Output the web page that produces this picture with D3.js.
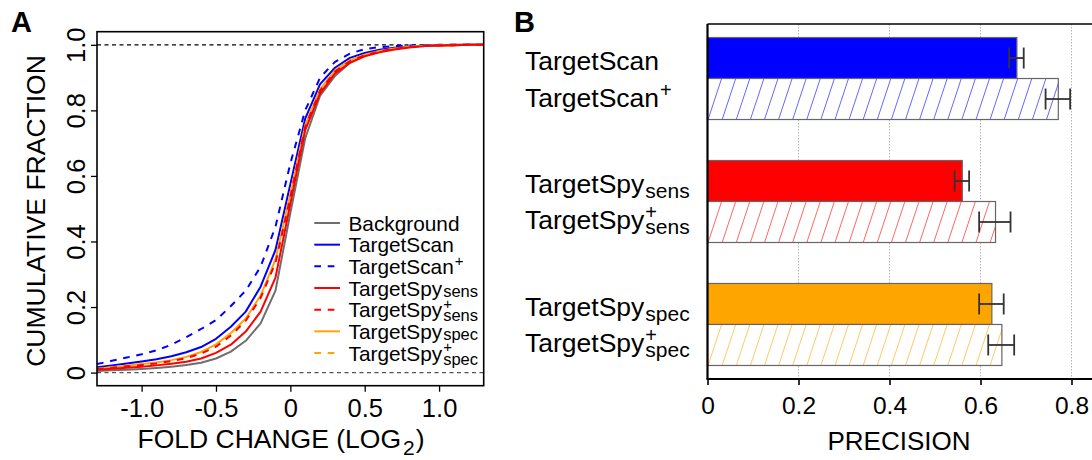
<!DOCTYPE html>
<html>
<head>
<meta charset="utf-8">
<script src="https://cdn.jsdelivr.net/npm/d3@7"></script>
<style>
  body { margin: 0; background: #fff; }
  svg { display: block; font-family: "Liberation Sans", Arial, Helvetica, sans-serif; }
</style>
</head>
<body>
<svg id="chart" width="1092" height="460"></svg>
<script>
// ---------- Panel A: cumulative distributions of log2 fold change ----------
const foldChange = [-1.3, -1.2, -1.1, -1.0, -0.9, -0.8, -0.7, -0.6, -0.5, -0.4, -0.3, -0.2, -0.1,
  0, 0.1, 0.2, 0.3, 0.4, 0.5, 0.6, 0.7, 0.8, 0.9, 1.0, 1.1, 1.2, 1.3];

const cdfBackground     = [0.005, 0.007, 0.009, 0.011, 0.014, 0.018, 0.023, 0.030, 0.043, 0.064, 0.097, 0.150, 0.250,
  0.487, 0.715, 0.845, 0.905, 0.945, 0.967, 0.980, 0.988, 0.993, 0.996, 0.998, 0.999, 1.000, 1.000];
const cdfTargetScan     = [0.016, 0.022, 0.028, 0.034, 0.041, 0.050, 0.062, 0.078, 0.103, 0.140, 0.186, 0.262, 0.374,
  0.575, 0.775, 0.880, 0.930, 0.960, 0.975, 0.985, 0.991, 0.995, 0.997, 0.999, 1.000, 1.000, 1.000];
const cdfTargetScanPlus = [0.026, 0.036, 0.046, 0.056, 0.068, 0.085, 0.108, 0.133, 0.160, 0.203, 0.250, 0.323, 0.445,
  0.638, 0.800, 0.900, 0.948, 0.973, 0.987, 0.993, 0.996, 0.998, 0.999, 1.000, 1.000, 1.000, 1.000];
const cdfSpySens        = [0.009, 0.012, 0.015, 0.018, 0.022, 0.027, 0.033, 0.043, 0.060, 0.085, 0.125, 0.186, 0.290,
  0.515, 0.740, 0.852, 0.913, 0.945, 0.965, 0.977, 0.986, 0.992, 0.996, 0.998, 0.999, 1.000, 1.000];
const cdfSpySensPlus    = [0.011, 0.015, 0.019, 0.023, 0.028, 0.035, 0.044, 0.058, 0.079, 0.113, 0.158, 0.228, 0.335,
  0.535, 0.750, 0.860, 0.918, 0.950, 0.968, 0.980, 0.988, 0.993, 0.996, 0.998, 0.999, 1.000, 1.000];
const cdfSpySpec        = [0.012, 0.016, 0.021, 0.026, 0.031, 0.038, 0.048, 0.063, 0.086, 0.121, 0.165, 0.235, 0.345,
  0.545, 0.755, 0.865, 0.922, 0.953, 0.970, 0.981, 0.989, 0.994, 0.997, 0.998, 0.999, 1.000, 1.000];
const cdfSpySpecPlus    = [0.011, 0.015, 0.020, 0.024, 0.030, 0.037, 0.046, 0.060, 0.083, 0.117, 0.162, 0.232, 0.340,
  0.540, 0.752, 0.862, 0.920, 0.951, 0.969, 0.980, 0.988, 0.993, 0.996, 0.998, 0.999, 1.000, 1.000];

const legendMain = ["Background", "TargetScan", "TargetScan", "TargetSpy", "TargetSpy", "TargetSpy", "TargetSpy"];
const legendSub  = ["", "", "", "sens", "sens", "spec", "spec"];
const legendSup  = ["", "", "+", "", "+", "", "+"];
const xTicksA = [-1.0, -0.5, 0, 0.5, 1.0];
const xTickLabelsA = ["-1.0", "-0.5", "0", "0.5", "1.0"];
const yTicksA = [0, 0.2, 0.4, 0.6, 0.8, 1.0];
const yTickLabelsA = ["0", "0.2", "0.4", "0.6", "0.8", "1.0"];

// ---------- Panel B: precision per method ----------
const methodMain = ["TargetScan", "TargetScan", "TargetSpy", "TargetSpy", "TargetSpy", "TargetSpy"];
const methodSub  = ["", "", "sens", "sens", "spec", "spec"];
const methodSup  = ["", "+", "", "+", "", "+"];
const precision     = [0.680, 0.771, 0.560, 0.633, 0.625, 0.647];
const precisionLow  = [0.663, 0.743, 0.543, 0.597, 0.597, 0.617];
const precisionHigh = [0.695, 0.797, 0.575, 0.666, 0.651, 0.674];
const xTicksB = [0, 0.2, 0.4, 0.6, 0.8];
const xTickLabelsB = ["0", "0.2", "0.4", "0.6", "0.8"];

const svg = d3.select("#chart");

// One text element: main word followed by a subscript and/or a superscript stacked at the same x
function richLabel(g, x, y, main, sub, sup, o) {
  const t = g.append("text").attr("x", x).attr("y", y).attr("font-size", o.size).attr("fill", "#000");
  t.append("tspan").text(main);
  const xs = x + t.node().getComputedTextLength() + o.gap;
  if (sup) t.append("tspan").attr("x", xs).attr("y", y - o.supRise).attr("font-size", o.supSize).text(sup);
  if (sub) t.append("tspan").attr("x", xs).attr("y", y + (sup ? o.subDropPlus : o.subDrop))
    .attr("font-size", o.subSize).text(sub);
}

// ================= Panel A =================
const A = { left: 97, right: 483.7, top: 31.7, bottom: 385.7 };
const xA = d3.scaleLinear().domain([-1.3, 1.3]).range([A.left, A.right]);
const yA = d3.scaleLinear().domain([-0.04, 1.04]).range([A.bottom, A.top]);

const gA = svg.append("g");

gA.append("clipPath").attr("id", "clipA")
  .append("rect").attr("x", A.left).attr("y", A.top).attr("width", A.right - A.left).attr("height", A.bottom - A.top);

// reference lines at 0 and 1
gA.append("line").attr("x1", A.left).attr("x2", A.right).attr("y1", yA(1)).attr("y2", yA(1))
  .attr("stroke", "#000").attr("stroke-width", 1.3).attr("stroke-dasharray", "4,3.5");
gA.append("line").attr("x1", A.left).attr("x2", A.right).attr("y1", yA(0)).attr("y2", yA(0))
  .attr("stroke", "#555").attr("stroke-width", 1.3).attr("stroke-dasharray", "4,3.5");

const series = [
  { values: cdfBackground,     color: "#6e6e6e", dash: null },
  { values: cdfTargetScan,     color: "#0000ff", dash: null },
  { values: cdfTargetScanPlus, color: "#0000ff", dash: "6.7,6.7" },
  { values: cdfSpySens,        color: "#ff0000", dash: null },
  { values: cdfSpySensPlus,    color: "#ff0000", dash: "6.7,6.7" },
  { values: cdfSpySpec,        color: "#ffa500", dash: null },
  { values: cdfSpySpecPlus,    color: "#ffa500", dash: "6.7,6.7" }
];

const line = d3.line().x(d => xA(d[0])).y(d => yA(d[1]));
const drawOrder = [0, 2, 1, 6, 5, 4, 3];
const curves = gA.append("g").attr("clip-path", "url(#clipA)");
drawOrder.forEach(i => {
  const s = series[i];
  curves.append("path")
    .datum(foldChange.map((f, k) => [f, s.values[k]]))
    .attr("d", line)
    .attr("fill", "none")
    .attr("stroke", s.color)
    .attr("stroke-width", 2)
    .attr("stroke-linejoin", "round")
    .attr("stroke-dasharray", s.dash);
});

// frame
gA.append("rect").attr("x", A.left).attr("y", A.top).attr("width", A.right - A.left).attr("height", A.bottom - A.top)
  .attr("fill", "none").attr("stroke", "#000").attr("stroke-width", 1.6);

// x axis
const axA = gA.append("g").attr("transform", `translate(0,${A.bottom})`)
  .call(d3.axisBottom(xA).tickValues(xTicksA).tickSize(6).tickPadding(7)
    .tickFormat((d, i) => xTickLabelsA[i]));
axA.select(".domain").remove();
axA.selectAll("line").attr("stroke", "#000").attr("stroke-width", 1.3);
axA.selectAll("text").attr("font-size", 25.5).attr("font-family", null).attr("fill", "#000");

// y axis, rotated labels
const ayA = gA.append("g").attr("transform", `translate(${A.left},0)`)
  .call(d3.axisLeft(yA).tickValues(yTicksA).tickSize(6).tickFormat((d, i) => yTickLabelsA[i]));
ayA.select(".domain").remove();
ayA.selectAll("line").attr("stroke", "#000").attr("stroke-width", 1.3);
ayA.selectAll("text").attr("font-size", 25.5).attr("font-family", null).attr("fill", "#000")
  .attr("x", null).attr("dy", null).attr("text-anchor", "middle")
  .attr("transform", "translate(-12,0) rotate(-90)");

// axis titles
const xt = gA.append("text").attr("x", 281).attr("y", 448.3).attr("text-anchor", "middle").attr("font-size", 26.5);
xt.append("tspan").text("FOLD CHANGE (LOG");
xt.append("tspan").attr("font-size", 21).attr("dy", 7).attr("dx", 2).text("2");
xt.append("tspan").attr("dy", -7).attr("dx", 1).text(")");

gA.append("text").attr("transform", "translate(45,211) rotate(-90)").attr("text-anchor", "middle")
  .attr("font-size", 26.5).text("CUMULATIVE FRACTION");

// legend
const legA = gA.append("g");
const legRow = d3.scaleLinear().domain([0, 6]).range([223, 353]);
series.forEach((s, i) => {
  const yy = legRow(i);
  legA.append("line").attr("x1", 314.3).attr("x2", 340).attr("y1", yy).attr("y2", yy)
    .attr("stroke", s.color).attr("stroke-width", 2).attr("stroke-dasharray", s.dash);
  richLabel(legA, 348.5, yy + 7.7, legendMain[i], legendSub[i], legendSup[i],
    { size: 20.8, subSize: 16.5, supSize: 15, gap: 1, supRise: 8.5, subDrop: 1, subDropPlus: 4 });
});

// panel letter
svg.append("text").attr("x", 11).attr("y", 32.3).attr("font-size", 29).attr("font-weight", "bold").text("A");

// ================= Panel B =================
const B = { left: 707.5, right: 1092, top: 24, bottom: 379 };
const xB = d3.scaleLinear().domain([0, 0.8]).range([B.left, 1071.5]);
const yB = d3.scaleLinear().domain([-0.33, 8.33]).range([B.top, B.bottom]);
const barColors = ["#0000ff", "#0000ff", "#ff0000", "#ff0000", "#ffa500", "#ffa500"];
const slotOf = i => Math.floor(i / 2) * 3 + (i % 2);

const gB = svg.append("g");

// dotted grid
gB.selectAll("line.grid").data(xTicksB.slice(1)).join("line").attr("class", "grid")
  .attr("x1", d => xB(d)).attr("x2", d => xB(d)).attr("y1", B.top).attr("y2", B.bottom)
  .attr("stroke", "#b5b5b5").attr("stroke-width", 1).attr("stroke-dasharray", "1.5,1.5");

precision.forEach((v, i) => {
  const y0 = yB(slotOf(i)), y1 = yB(slotOf(i) + 1);
  const x0 = xB(0), x1 = xB(v);
  const hatched = i % 2 === 1;
  gB.append("rect").attr("x", x0).attr("y", y0).attr("width", x1 - x0).attr("height", y1 - y0)
    .attr("fill", hatched ? "#fff" : barColors[i]);
  if (hatched) {
    // diagonal shading rising to the right
    const cid = "hatch" + i;
    gB.append("clipPath").attr("id", cid)
      .append("rect").attr("x", x0).attr("y", y0).attr("width", x1 - x0).attr("height", y1 - y0);
    const step = 14.1, lean = 13.5;
    const starts = d3.range(x0 - lean, x1, step);
    gB.append("g").attr("clip-path", `url(#${cid})`)
      .selectAll("line").data(starts).join("line")
      .attr("x1", d => d).attr("y1", y1).attr("x2", d => d + lean).attr("y2", y0)
      .attr("stroke", barColors[i]).attr("stroke-opacity", 0.6).attr("stroke-width", 1);
  }
  gB.append("rect").attr("x", x0).attr("y", y0).attr("width", x1 - x0).attr("height", y1 - y0)
    .attr("fill", "none").attr("stroke", "#666").attr("stroke-width", 1.2);

  // error bar
  const yc = (y0 + y1) / 2;
  const eb = gB.append("g").attr("stroke", "#333").attr("stroke-width", 1.8);
  eb.append("line").attr("x1", xB(precisionLow[i])).attr("x2", xB(precisionHigh[i])).attr("y1", yc).attr("y2", yc);
  eb.append("line").attr("x1", xB(precisionLow[i])).attr("x2", xB(precisionLow[i])).attr("y1", yc - 10.5).attr("y2", yc + 10.5);
  eb.append("line").attr("x1", xB(precisionHigh[i])).attr("x2", xB(precisionHigh[i])).attr("y1", yc - 10.5).attr("y2", yc + 10.5);

  // category label
  richLabel(gB, 525, yc + (hatched ? 7.5 : 12), methodMain[i], methodSub[i], methodSup[i],
    { size: 26.5, subSize: 21, supSize: 20, gap: 1, supRise: 10, subDrop: 5, subDropPlus: 5 });
});

// frame: top and left edges, bottom axis
gB.append("line").attr("x1", B.left).attr("x2", B.right).attr("y1", B.top).attr("y2", B.top)
  .attr("stroke", "#000").attr("stroke-width", 1.6);
gB.append("line").attr("x1", B.left).attr("x2", B.left).attr("y1", B.top).attr("y2", B.bottom)
  .attr("stroke", "#000").attr("stroke-width", 2.2);

const axB = gB.append("g").attr("transform", `translate(0,${B.bottom})`)
  .call(d3.axisBottom(xB).tickValues(xTicksB).tickSize(6).tickPadding(11.3)
    .tickFormat((d, i) => xTickLabelsB[i]));
axB.select(".domain").remove();
axB.selectAll("line").attr("stroke", "#000").attr("stroke-width", 1.6);
axB.selectAll("text").attr("font-size", 24.5).attr("font-family", null).attr("fill", "#000");
gB.append("line").attr("x1", B.left - 1).attr("x2", B.right).attr("y1", B.bottom).attr("y2", B.bottom)
  .attr("stroke", "#000").attr("stroke-width", 2.2);

gB.append("text").attr("x", 899).attr("y", 450).attr("text-anchor", "middle").attr("font-size", 26).text("PRECISION");

svg.append("text").attr("x", 514).attr("y", 32.3).attr("font-size", 29).attr("font-weight", "bold").text("B");
</script>
</body>
</html>
